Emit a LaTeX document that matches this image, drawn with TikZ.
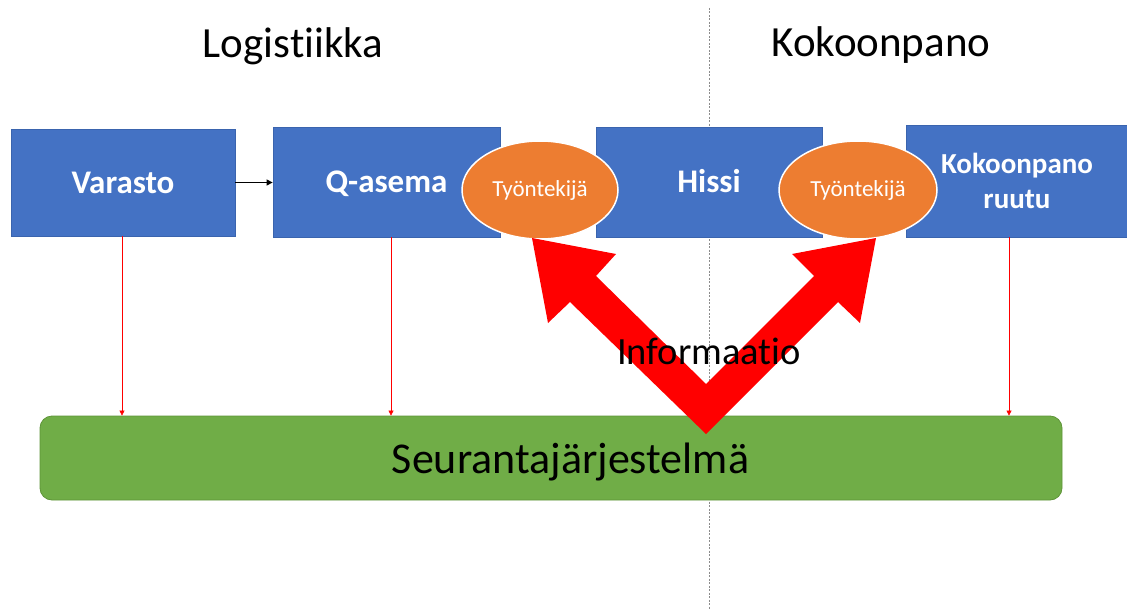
\documentclass[tikz,border=0pt]{standalone}
\usepackage{fontspec}
\setmainfont{Carlito}[Ligatures=NoCommon]
\usetikzlibrary{arrows.meta,shapes.geometric}
\definecolor{boxblue}{HTML}{4472C4}
\definecolor{boxedge}{HTML}{3A64AE}
\definecolor{worker}{HTML}{ED7D31}
\definecolor{trackgreen}{HTML}{70AD47}
\definecolor{trackedge}{HTML}{5E9438}
\definecolor{divider}{HTML}{8C8C8C}
\tikzset{
  stagebox/.style={rectangle, fill=boxblue, draw=boxedge, line width=0.8pt, text=white,
    font=\bfseries\fontsize{33}{38}\selectfont, inner sep=0pt},
  oneline/.style={text height=21pt, text depth=0pt},
  workerell/.style={ellipse, fill=worker, draw=white, line width=1.5pt, text=white,
    font=\fontsize{23}{27}\selectfont, inner sep=0pt},
  trackbox/.style={rectangle, rounded corners=12pt, fill=trackgreen, draw=trackedge, line width=0.8pt,
    inner sep=0pt},
  titletext/.style={font=\fontsize{43}{50}\selectfont, anchor=base},
  redlink/.style={red, line width=0.6pt, -{Triangle[width=5pt,length=5pt]}},
  blacklink/.style={black, line width=1.2pt, -{Triangle[width=6pt,length=6pt]}},
}
\begin{document}
\begin{tikzpicture}[x=1pt,y=-1pt]
\useasboundingbox (0,0) rectangle (1127,610);
% divider
\coordinate (dtop) at (709,8);
\coordinate (dbot) at (709,610);
\draw[divider, line width=0.8pt, dash pattern=on 2pt off 1.5pt] (dtop) -- (dbot);
% titles
\node[titletext] (logi) at (293,58) {Logistiikka};
\node[titletext] (koko) at (881,57) {Kokoonpano};
% boxes
\node[stagebox, oneline, minimum width=224, minimum height=107] (varasto) at (123,182.5) {Varasto};
\node[stagebox, oneline, minimum width=227, minimum height=110] (qasema) at (386.5,182) {Q-asema};
\node[stagebox, oneline, minimum width=226, minimum height=110] (hissi) at (709,182) {Hissi};
\node[stagebox, minimum width=222, minimum height=112, align=center,
      font=\bfseries\fontsize{29}{35}\selectfont] (ruutu) at (1017,181) {Kokoonpano\\ruutu};
% workers
\node[workerell, minimum width=156, minimum height=98] (tyo1) at (540,190) {Työntekijä};
\node[workerell, minimum width=158, minimum height=98] (tyo2) at (858,190) {Työntekijä};
% tracking system
\node[trackbox, minimum width=1022, minimum height=84] (seur) at (551,458) {};
\node[font=\fontsize{44}{50}\selectfont, anchor=base] (seurtext) at (570.5,473) {Seurantajärjestelmä};
% connectors
\draw[blacklink] (varasto.east) -- (qasema.west |- varasto.east);
\draw[redlink] ([xshift=-1pt]varasto.south) -- ([xshift=-1pt]varasto.south |- seur.north);
\draw[redlink] ([xshift=4.5pt]qasema.south) -- ([xshift=4.5pt]qasema.south |- seur.north);
\draw[redlink] ([xshift=-8pt]ruutu.south) -- ([xshift=-8pt]ruutu.south |- seur.north);
% big information arrow
\fill[red] (706,434) -- (570,302) -- (548,323) -- (532,238) -- (616,254) -- (596,276)
  -- (706,384) -- (814,276) -- (792,254) -- (876,238) -- (860,323) -- (838,302) -- cycle;
\node[font=\fontsize{38.5}{44}\selectfont, anchor=base] (info) at (709,364) {Informaatio};
\end{tikzpicture}
\end{document}
